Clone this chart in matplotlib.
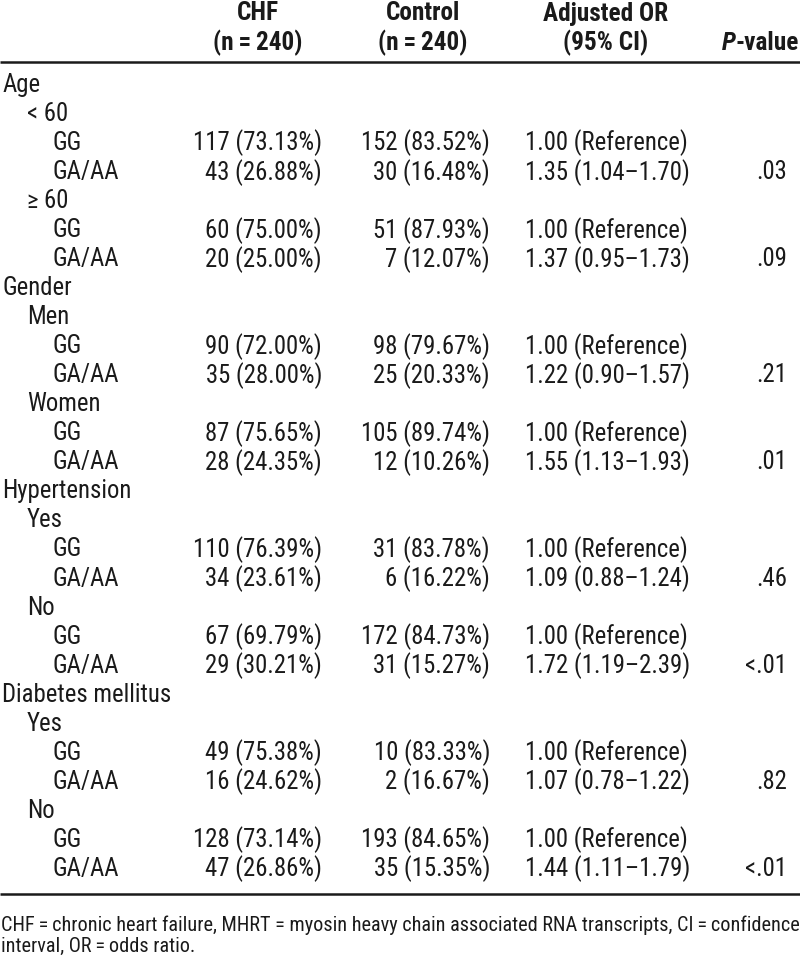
import matplotlib
matplotlib.use("Agg")
import matplotlib.pyplot as plt
from matplotlib import font_manager

# condensed sans to mimic the journal font; fall back to DejaVu Sans condensed
names = {f.name for f in font_manager.fontManager.ttflist}
FONT, STRETCH = "DejaVu Sans", "condensed"
for cand in ["Roboto Condensed", "Archivo Narrow", "Liberation Sans Narrow"]:
    if cand in names:
        FONT, STRETCH = cand, "normal"
        break
plt.rcParams["font.family"] = [FONT, "DejaVu Sans"]

# --- data ---
groups = ["Age", "Gender", "Hypertension", "Diabetes mellitus"]
strata = [["< 60", "\u2265 60"], ["Men", "Women"], ["Yes", "No"], ["Yes", "No"]]
chf_gg = [117, 60, 90, 87, 110, 67, 49, 128]
chf_gg_pct = [73.13, 75.00, 72.00, 75.65, 76.39, 69.79, 75.38, 73.14]
chf_ga = [43, 20, 35, 28, 34, 29, 16, 47]
chf_ga_pct = [26.88, 25.00, 28.00, 24.35, 23.61, 30.21, 24.62, 26.86]
ctrl_gg = [152, 51, 98, 105, 31, 172, 10, 193]
ctrl_gg_pct = [83.52, 87.93, 79.67, 89.74, 83.78, 84.73, 83.33, 84.65]
ctrl_ga = [30, 7, 25, 12, 6, 31, 2, 35]
ctrl_ga_pct = [16.48, 12.07, 20.33, 10.26, 16.22, 15.27, 16.67, 15.35]
or_est = [1.35, 1.37, 1.22, 1.55, 1.09, 1.72, 1.07, 1.44]
or_lo = [1.04, 0.95, 0.90, 1.13, 0.88, 1.19, 0.78, 1.11]
or_hi = [1.70, 1.73, 1.57, 1.93, 1.24, 2.39, 1.22, 1.79]
p_values = [".03", ".09", ".21", ".01", ".46", "<.01", ".82", "<.01"]
headers = [("CHF", "(n\u2009=\u2009240)"), ("Control", "(n\u2009=\u2009240)"), ("Adjusted OR", "(95% CI)")]
footnote = ["CHF\u2009=\u2009chronic heart failure, MHRT = myosin heavy chain associated RNA transcripts, CI\u2009=\u2009confidence",
            "interval, OR\u2009=\u2009odds ratio."]

# build the rows: (indent level, label, chf, ctrl, or, p)
rows = []
k = 0
for g, subs in zip(groups, strata):
    rows.append((0, g, "", "", "", ""))
    for s in subs:
        rows.append((1, s, "", "", "", ""))
        rows.append((2, "GG", f"{chf_gg[k]} ({chf_gg_pct[k]:.2f}%)",
                     f"{ctrl_gg[k]} ({ctrl_gg_pct[k]:.2f}%)", "1.00 (Reference)", ""))
        rows.append((2, "GA/AA", f"{chf_ga[k]} ({chf_ga_pct[k]:.2f}%)",
                     f"{ctrl_ga[k]} ({ctrl_ga_pct[k]:.2f}%)",
                     f"{or_est[k]:.2f} ({or_lo[k]:.2f}\u2013{or_hi[k]:.2f})", p_values[k]))
        k += 1

W, H = 800, 965
fig = plt.figure(figsize=(W / 100, H / 100), dpi=100)
ax = fig.add_axes([0, 0, 1, 1])
ax.set_xlim(0, W)
ax.set_ylim(H, 0)
ax.axis("off")
renderer = fig.canvas.get_renderer()


def fit_size(s, target_px, **kw):
    # font size that makes string s about target_px wide
    t = ax.text(0, 0, s, fontsize=20, fontstretch=STRETCH, **kw)
    w = t.get_window_extent(renderer).width
    t.remove()
    return 20 * target_px / w


col = "#1a1a1a"
fs = fit_size("117 (73.13%)", 129)
fs_h = fit_size("Adjusted OR", 125, fontweight="bold")
fs_f = fit_size(footnote[0], 797)

# header
hdr = dict(fontsize=fs_h, fontweight="bold", color=col, va="center", fontstretch=STRETCH)
for xc, (l1, l2) in zip([258, 423, 606], headers):
    ax.text(xc, 13.5, l1, ha="center", **hdr)
    ax.text(xc, 43, l2, ha="center", **hdr)
tv = ax.text(799, 43, "-value", ha="right", **hdr)
x_left = ax.transData.inverted().transform(tv.get_window_extent(renderer))[0][0]
ax.text(x_left, 43, "P", ha="right", fontstyle="italic", **hdr)

ax.plot([0, W], [61.5, 61.5], color=col, lw=1.8, solid_capstyle="butt")

y0, dy = 85, 29.03
indent = [2, 27, 52]
for i, (lvl, lab, c1, c2, c3, p) in enumerate(rows):
    y = y0 + i * dy
    kw = dict(fontsize=fs, color=col, va="center", fontstretch=STRETCH)
    ax.text(indent[lvl], y, lab, ha="left", **kw)
    ax.text(322, y, c1, ha="right", **kw)
    ax.text(490, y, c2, ha="right", **kw)
    ax.text(525, y, c3, ha="left", **kw)
    ax.text(787, y, p, ha="right", **kw)

ax.plot([0, W], [894, 894], color=col, lw=1.8, solid_capstyle="butt")

for j, line in enumerate(footnote):
    ax.text(1, 925 + j * 21, line, fontsize=fs_f, color=col, va="center", ha="left",
            fontstretch=STRETCH)

fig.savefig("out.png", dpi=100)
